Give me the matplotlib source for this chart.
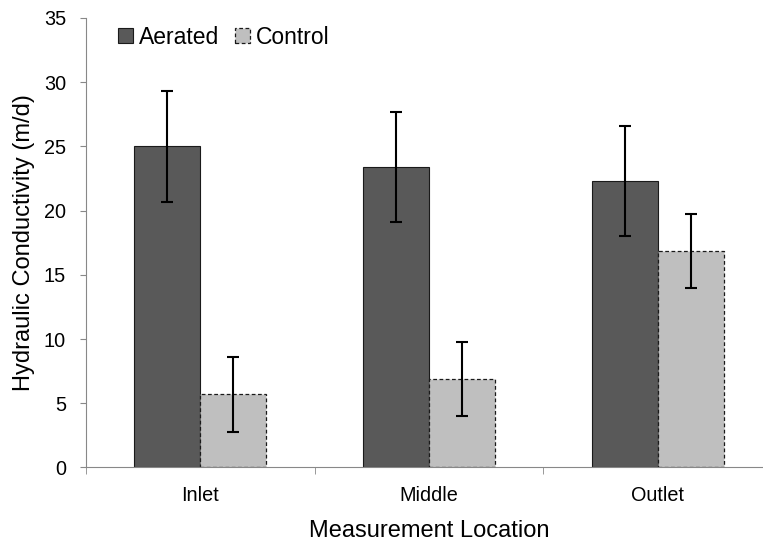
import numpy as np
import matplotlib.pyplot as plt

plt.rcParams['font.family'] = ['Liberation Sans', 'DejaVu Sans']

locations = ["Inlet", "Middle", "Outlet"]
aerated = [25.0, 23.4, 22.3]
aerated_err = [4.3, 4.3, 4.3]
control = [5.7, 6.9, 16.85]
control_err = [2.9, 2.9, 2.9]

fig = plt.figure(figsize=(7.63, 5.42), dpi=100)
# x axis runs a little past the right edge of the picture, as in the original
ax = fig.add_axes([0.1127, 0.1375, 0.8991, 0.8293])

x = np.arange(len(locations))
w = 0.288

ax.bar(x - w / 2, aerated, w, color="#595959", edgecolor="#1a1a1a", linewidth=0.8,
       label="Aerated", zorder=2)
ax.bar(x + w / 2, control, w, color="#bfbfbf", edgecolor="#1a1a1a", linewidth=0.9,
       linestyle=(0, (3, 2)), label="Control", zorder=2)
ax.errorbar(x - w / 2, aerated, yerr=aerated_err, fmt="none", ecolor="black",
            elinewidth=1.5, capsize=4.3, capthick=1.5, zorder=3)
ax.errorbar(x + w / 2, control, yerr=control_err, fmt="none", ecolor="black",
            elinewidth=1.5, capsize=4.3, capthick=1.5, zorder=3)

ax.set_xlim(-0.5, len(locations) - 0.5)
ax.set_ylim(0, 35)
ax.set_yticks(np.arange(0, 36, 5))
ax.set_xticks(x)
ax.set_xticklabels(locations)
ax.set_xticks(np.arange(-0.5, len(locations), 1), minor=True)
ax.tick_params(axis="x", which="major", length=0, labelsize=14.3, pad=13)
ax.tick_params(axis="x", which="minor", length=5, color="#888888", direction="out")
ax.tick_params(axis="y", length=4.5, color="#888888", labelsize=14.3, pad=10)

for s in ["top", "right"]:
    ax.spines[s].set_visible(False)
for s in ["left", "bottom"]:
    ax.spines[s].set_color("#888888")

ax.set_xlabel("Measurement Location", fontsize=17, labelpad=11)
ax.set_ylabel("Hydraulic Conductivity (m/d)", fontsize=17, labelpad=6)

ax.legend(loc="center left", bbox_to_anchor=(118 / 763, 1 - 37 / 542),
          bbox_transform=fig.transFigure, ncol=2, frameon=False,
          fontsize=16.5, handlelength=0.65, handleheight=0.65, handletextpad=0.26,
          columnspacing=0.7, borderaxespad=0, borderpad=0)

fig.savefig("out.png", dpi=100)
